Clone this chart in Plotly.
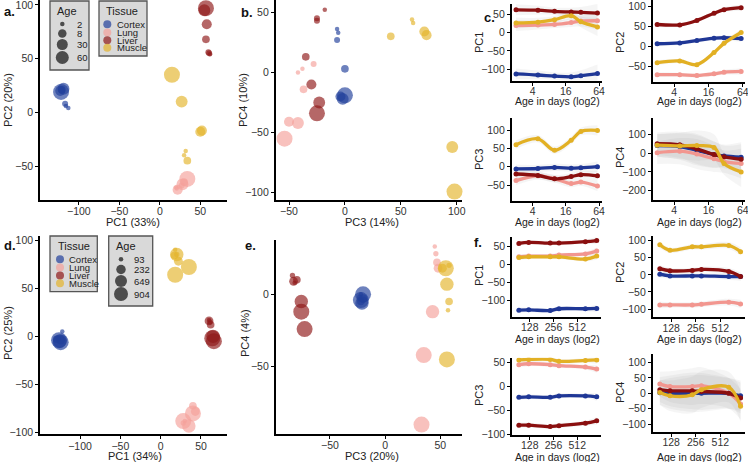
import numpy as np
import plotly.graph_objects as go

W, H = 748, 462
FONT = "Liberation Sans, Arial, sans-serif"

TISSUES = ["Cortex", "Lung", "Liver", "Muscle"]
POINT_COLORS = {"Cortex": "#22409b", "Lung": "#f4a19b", "Liver": "#8e1818", "Muscle": "#e4b42c"}
LINE_COLORS = {"Cortex": "#1f3796", "Lung": "#f2968f", "Liver": "#8a0f0f", "Muscle": "#e2b024"}

# ---------------- young samples (panels a, b) ----------------
young_age = {
    "Cortex": [2, 2, 5, 10, 20, 30, 60],
    "Lung":   [2, 2, 5, 10, 20, 30, 60],
    "Liver":  [2, 5, 5, 10, 20, 30, 60],
    "Muscle": [2, 2, 10, 20, 20, 30, 60],
}
young_pc1 = {
    "Cortex": [-113, -116, -117, -121, -123, -119, -122],
    "Lung":   [20, 21, 27, 30, 22, 28, 34],
    "Liver":  [62, 61, 60, 57, 58, 55, 57],
    "Muscle": [30, 32, 34, 52, 50, 27, 15],
}
young_pc2 = {
    "Cortex": [4, 6, 8, 21, 20, 22, 19],
    "Lung":   [-70, -71, -68, -65, -72, -67, -62],
    "Liver":  [54, 55, 56, 68, 82, 95, 97],
    "Muscle": [-40, -36, -45, -17, -18, 10, 35],
}
young_pc3 = {
    "Cortex": [-7, -6, -7, 0, -4, -2, 0],
    "Lung":   [-42, -38, -28, -37, -50, -42, -54],
    "Liver":  [-18, -25, -25, -35, -30, -23, -25],
    "Muscle": [60, 61, 41, 71, 73, 96, 98],
}
young_pc4 = {
    "Cortex": [36, 33, 27, 3, -20, -22, -19],
    "Lung":   [0, 3, 7, -14, -41, -42, -55],
    "Liver":  [52, 45, 43, 13, -10, -25, -34],
    "Muscle": [44, 41, 30, 34, 31, -62, -99],
}

# ---------------- old samples (panels d, e) ----------------
old_age = {t: [93, 124, 232, 300, 649, 904, 904] for t in TISSUES}
old_pc1 = {
    "Cortex": [-122, -127, -129, -124, -125, -124, -126],
    "Lung":   [30, 28, 40, 43, 35, 28, 40],
    "Liver":  [60, 61, 62, 60, 65, 66, 64],
    "Muscle": [18, 20, 17, 22, 20, 35, 18],
}
old_pc2 = {
    "Cortex": [5, -2, -3, -4, -5, -6, -4],
    "Lung":   [-88, -90, -72, -78, -93, -88, -80],
    "Liver":  [17, 15, 12, 16, 0, -5, -2],
    "Muscle": [90, 85, 84, 78, 85, 72, 64],
}
old_pc3 = {
    "Cortex": [-22, -23, -22, -20, -21, -22, -20],
    "Lung":   [45, 46, 47, 48, 43, 35, 33],
    "Liver":  [-82, -84, -80, -83, -76, -73, -76],
    "Muscle": [57, 58, 58, 52, 56, 55, 56],
}
old_pc4 = {
    "Cortex": [0, -2, -5, -3, -6, -4, 0],
    "Lung":   [33, 28, 22, 18, -12, -42, -90],
    "Liver":  [8, 13, 10, 9, -5, -24, -12],
    "Muscle": [-11, 20, -5, 18, 7, 18, -45],
}

# ---------------- trends (panel c) ----------------
c_ages = [2, 5, 10, 20, 30, 60]
c_pc1 = {"Cortex": [-113, -116, -119, -121, -118, -112], "Lung": [20, 21, 23, 28, 32, 33],
         "Liver": [63, 62, 59, 57, 56, 54], "Muscle": [27, 29, 36, 47, 30, 16]}
c_pc2 = {"Cortex": [7, 9, 15, 21, 22, 20], "Lung": [-70, -70, -72, -68, -64, -62],
         "Liver": [55, 54, 65, 83, 92, 97], "Muscle": [-40, -36, -45, -15, 8, 35]}
c_pc3 = {"Cortex": [-6, -5, -2, -4, -3, 0], "Lung": [-38, -25, -33, -46, -42, -53],
         "Liver": [-20, -24, -33, -27, -22, -25], "Muscle": [60, 76, 45, 72, 96, 99]}
c_pc4 = {"Cortex": [40, 35, 15, -8, -15, -22], "Lung": [2, 10, -5, -30, -45, -55],
         "Liver": [50, 44, 22, -8, -20, -33], "Muscle": [42, 38, 40, 30, -55, -100]}
c_band = {"PC1": [15, 12, 10, 12, 15, 25], "PC2": [6, 5, 5, 5, 6, 8],
          "PC3": [12, 10, 10, 10, 10, 14], "PC4": [60, 70, 80, 70, 60, 80]}

# ---------------- trends (panel f) ----------------
f_ages = [93, 124, 232, 300, 649, 904]
f_pc1 = {"Cortex": [-128, -127, -129, -124, -124, -123], "Lung": [20, 22, 22, 25, 28, 36],
         "Liver": [57, 60, 58, 58, 62, 65], "Muscle": [18, 20, 20, 20, 14, 22]}
f_pc2 = {"Cortex": [2, -3, -3, -3, -5, -5], "Lung": [-88, -88, -88, -86, -80, -85],
         "Liver": [18, 12, 13, 16, 10, -5], "Muscle": [88, 72, 82, 82, 86, 68]}
f_pc3 = {"Cortex": [-23, -22, -23, -20, -20, -22], "Lung": [45, 47, 45, 43, 40, 36],
         "Liver": [-81, -81, -84, -82, -77, -72], "Muscle": [55, 56, 56, 52, 54, 55]}
f_pc4 = {"Cortex": [2, 0, 0, 0, 0, -8], "Lung": [30, 22, 22, 25, 0, -35],
         "Liver": [12, 8, 8, 6, 0, -15], "Muscle": [3, -8, -5, 12, 20, -42]}
f_band = {"PC1": [8, 6, 6, 6, 6, 10], "PC2": [10, 8, 8, 8, 10, 12],
          "PC3": [6, 5, 5, 5, 5, 8], "PC4": [40, 50, 60, 60, 50, 50]}

young_legend_ages = [2, 8, 30, 60]
old_legend_ages = [93, 232, 649, 904]


def size_young(a):
    a = np.asarray(a, float)
    return 4.5 + (np.sqrt(a) - np.sqrt(2)) / (np.sqrt(60) - np.sqrt(2)) * 11.5


def size_old(a):
    a = np.asarray(a, float)
    return 4.5 + (np.sqrt(a) - np.sqrt(93)) / (np.sqrt(904) - np.sqrt(93)) * 11.5


def XD(x0, x1):
    return [x0 / W, x1 / W]


def YD(y0, y1):
    return [1 - y1 / H, 1 - y0 / H]


def px(x):
    return x / W


def py(y):
    return 1 - y / H


fig = go.Figure()

base = dict(showline=True, linecolor="black", linewidth=1.6, ticks="outside", ticklen=3,
            tickwidth=1, tickcolor="black", showgrid=False, zeroline=False, automargin=False,
            ticklabeloverflow="allow",
            tickfont=dict(size=10.5, color="#333333", family=FONT), fixedrange=True)

axes = {}


def set_axes(n, xdom, ydom, xr, yr, xt, yt, xlog=False, xtext=None):
    xk = "xaxis" if n == 1 else f"xaxis{n}"
    yk = "yaxis" if n == 1 else f"yaxis{n}"
    sx = "" if n == 1 else str(n)
    xa = dict(base, domain=xdom, range=xr, tickvals=xt, anchor="y" + sx, ticklabelstandoff=-2)
    if xlog:
        xa["type"] = "log"
        xa["ticklabelstandoff"] = -3
    if xtext is not None:
        xa["ticktext"] = xtext
    ya = dict(base, domain=ydom, range=yr, tickvals=yt, anchor="x" + sx)
    axes[xk] = xa
    axes[yk] = ya


L2 = np.log10(2)
set_axes(1, XD(40, 227), YD(0, 200), [-148, 83], [-81.6, 104.6], [-100, -50, 0, 50], [-50, 0, 50, 100])
set_axes(2, XD(275.7, 462), YD(0, 200), [-61.9, 104.7], [-106, 60.2], [-50, 0, 50, 100], [-100, -50, 0, 50])
set_axes(3, XD(40, 226.7), YD(236, 434.3), [-149.6, 81.9], [-101.7, 104.2], [-100, -50, 0, 50], [-100, -50, 0, 50, 100])
set_axes(4, XD(275.7, 462), YD(240, 434), [-99.2, 69.7], [-96.5, 37.5], [-50, 0, 50], [-50, 0])
cr = [0.74 * L2, 6.15 * L2]
set_axes(5, XD(511.7, 601.5), YD(4, 80.7), cr, [-131.7, 79], [4, 16, 64], [-100, -50, 0, 50], True, ["4", "16", "64"])
set_axes(6, XD(652.7, 745.3), YD(0, 81.7), cr, [-87.5, 116], [4, 16, 64], [-50, 0, 50, 100], True, ["4", "16", "64"])
set_axes(7, XD(511.7, 601.5), YD(118.3, 201), cr, [-93.6, 132], [4, 16, 64], [-50, 0, 50, 100], True, ["4", "16", "64"])
set_axes(8, XD(652.7, 745.3), YD(118.3, 200), cr, [-249.5, 185], [4, 16, 64], [-200, -100, 0, 100], True, ["4", "16", "64"])
fr = [6.25 * L2, 10.0 * L2]
set_axes(9, XD(512, 601), YD(236.7, 316.7), fr, [-146, 75.8], [128, 256, 512], [-100, -50, 0, 50], True, ["128", "256", "512"])
set_axes(10, XD(652.7, 745), YD(236, 317.3), fr, [-124.3, 113.8], [128, 256, 512], [-100, -50, 0, 50, 100], True, ["128", "256", "512"])
set_axes(11, XD(512, 601), YD(357.7, 435), fr, [-101.5, 59.6], [128, 256, 512], [-100, -50, 0, 50], True, ["128", "256", "512"])
set_axes(12, XD(652.7, 745), YD(354, 431.7), fr, [-125, 128], [128, 256, 512], [-100, -50, 0, 50, 100], True, ["128", "256", "512"])
# overlay axis in pixel units for legend keys
axes["xaxis13"] = dict(domain=[0, 1], range=[0, W], visible=False, anchor="y13", fixedrange=True)
axes["yaxis13"] = dict(domain=[0, 1], range=[H, 0], visible=False, anchor="x13", fixedrange=True)


def scatter_panel(n, xs, ys, ages, sizefn):
    sx = "" if n == 1 else str(n)
    for t in TISSUES:
        fig.add_trace(go.Scatter(
            x=xs[t], y=ys[t], mode="markers",
            marker=dict(size=sizefn(ages[t]), color=POINT_COLORS[t], opacity=0.66, line=dict(width=0)),
            xaxis="x" + sx, yaxis="y" + sx, showlegend=False, hoverinfo="skip", cliponaxis=False))


scatter_panel(1, young_pc1, young_pc2, young_age, size_young)
scatter_panel(2, young_pc3, young_pc4, young_age, size_young)
scatter_panel(3, old_pc1, old_pc2, old_age, size_old)
scatter_panel(4, old_pc3, old_pc4, old_age, size_old)


def trend_panel(n, ages, vals, band):
    sx = str(n)
    band = np.asarray(band, float)
    for t in TISSUES:
        v = np.asarray(vals[t], float)
        fig.add_trace(go.Scatter(x=ages, y=v - band, mode="lines", line=dict(width=0, shape="spline"),
                                 xaxis="x" + sx, yaxis="y" + sx, showlegend=False, hoverinfo="skip"))
        fig.add_trace(go.Scatter(x=ages, y=v + band, mode="lines", line=dict(width=0, shape="spline"),
                                 fill="tonexty", fillcolor="rgba(140,140,140,0.085)",
                                 xaxis="x" + sx, yaxis="y" + sx, showlegend=False, hoverinfo="skip"))
    for t in TISSUES:
        fig.add_trace(go.Scatter(x=ages, y=vals[t], mode="lines+markers",
                                 line=dict(width=3.3, color=LINE_COLORS[t], shape="spline"),
                                 marker=dict(size=5, color=LINE_COLORS[t]),
                                 xaxis="x" + sx, yaxis="y" + sx, showlegend=False, hoverinfo="skip"))


trend_panel(5, c_ages, c_pc1, c_band["PC1"])
trend_panel(6, c_ages, c_pc2, c_band["PC2"])
trend_panel(7, c_ages, c_pc3, c_band["PC3"])
trend_panel(8, c_ages, c_pc4, c_band["PC4"])
trend_panel(9, f_ages, f_pc1, f_band["PC1"])
trend_panel(10, f_ages, f_pc2, f_band["PC2"])
trend_panel(11, f_ages, f_pc3, f_band["PC3"])
trend_panel(12, f_ages, f_pc4, f_band["PC4"])

# ---------------- legends ----------------
shapes = []
ann = []


def box(x0, y0, x1, y1):
    shapes.append(dict(type="rect", xref="paper", yref="paper", x0=px(x0), x1=px(x1), y0=py(y1), y1=py(y0),
                       fillcolor="#d9d9d9", line=dict(color="#555555", width=1.3), layer="below"))


def text(x, y, s, size=11, xanchor="center", yanchor="middle", angle=0, bold=False, color="#222222"):
    ann.append(dict(x=px(x), y=py(y), xref="paper", yref="paper", text=f"<b>{s}</b>" if bold else s,
                    showarrow=False, xanchor=xanchor, yanchor=yanchor, textangle=angle,
                    font=dict(size=size, family=FONT, color=color)))


def legend_keys(xc, ys, sizes, colors, opacity):
    fig.add_trace(go.Scatter(x=[xc] * len(ys), y=ys, mode="markers",
                             marker=dict(size=sizes, color=colors, opacity=opacity, line=dict(width=0)),
                             xaxis="x13", yaxis="y13", showlegend=False, hoverinfo="skip"))


# panel a legends
box(50, 1, 89, 70)
text(55, 11.5, "Age", 11, "left")
a_age_y = [24, 33.5, 44.5, 57.5]
legend_keys(62.3, a_age_y, [4.5, 8.5, 11, 13], "#333333", 0.85)
for yy, a in zip(a_age_y, young_legend_ages):
    text(74.5, yy, str(a), 9.5, "left")
box(99, 1, 147, 56)
text(104, 11.5, "Tissue", 11, "left")
a_t_y = [24.3, 32.5, 40.2, 47.8]
legend_keys(107.3, a_t_y, 8, [POINT_COLORS[t] for t in TISSUES], 0.7)
for yy, t in zip(a_t_y, TISSUES):
    text(114.5, yy, t, 9.5, "left")

# panel d legends
box(50, 236, 97.3, 291.7)
text(56, 246, "Tissue", 11, "left")
d_t_y = [259.3, 267.5, 275.5, 283.3]
legend_keys(60, d_t_y, 8, [POINT_COLORS[t] for t in TISSUES], 0.7)
for yy, t in zip(d_t_y, TISSUES):
    text(66.5, yy, t, 9.5, "left")
box(108.7, 236, 152.7, 306)
text(114, 246, "Age", 11, "left")
d_age_y = [259.3, 269.5, 281, 294]
legend_keys(121, d_age_y, [4.5, 9.5, 12, 14], "#333333", 0.85)
for yy, a in zip(d_age_y, old_legend_ages):
    text(132, yy, str(a), 9.5, "left")

# ---------------- titles ----------------
text(133, 221.5, "PC1 (33%)", 11)
text(371.7, 221.5, "PC3 (14%)", 11)
text(135, 455.5, "PC1 (34%)", 11)
text(371.7, 455.5, "PC3 (20%)", 11)
text(8, 100, "PC2 (20%)", 11, angle=-90)
text(243, 100, "PC4 (10%)", 11, angle=-90)
text(8, 333, "PC2 (25%)", 11, angle=-90)
text(245, 333, "PC4 (4%)", 11, angle=-90)

for (xc, yc) in [(557, 101), (699, 101), (557, 221.5), (699, 221.5),
                 (557, 338.5), (699, 338.5), (557, 456.5), (699, 456.5)]:
    text(xc, yc, "Age in days (log2)", 10.5)

for (xc, yc, s) in [(479, 43, "PC1"), (620, 43, "PC2"), (479, 160, "PC3"), (620, 158, "PC4"),
                    (479, 276, "PC1"), (620, 273, "PC2"), (479, 396, "PC3"), (620, 393, "PC4")]:
    text(xc, yc, s, 11, angle=-90)

for (xc, yc, s) in [(2, 11.5, "a."), (239, 12, "b."), (482, 17, "c."),
                    (2, 245, "d."), (243, 246, "e."), (472, 242, "f.")]:
    text(xc, yc, s, 13, "left", bold=True, color="#111111")

fig.update_layout(
    width=W, height=H, autosize=False,
    margin=dict(l=0, r=0, t=0, b=0, pad=0, autoexpand=False),
    paper_bgcolor="white", plot_bgcolor="rgba(0,0,0,0)",
    showlegend=False, shapes=shapes, annotations=ann,
    font=dict(family=FONT, size=11, color="#222222"),
    **axes,
)

fig.write_html("out.html", config={"displayModeBar": False},
               post_script="document.body.style.margin='0';document.body.style.padding='0';"
                           "document.body.style.overflow='hidden';")
